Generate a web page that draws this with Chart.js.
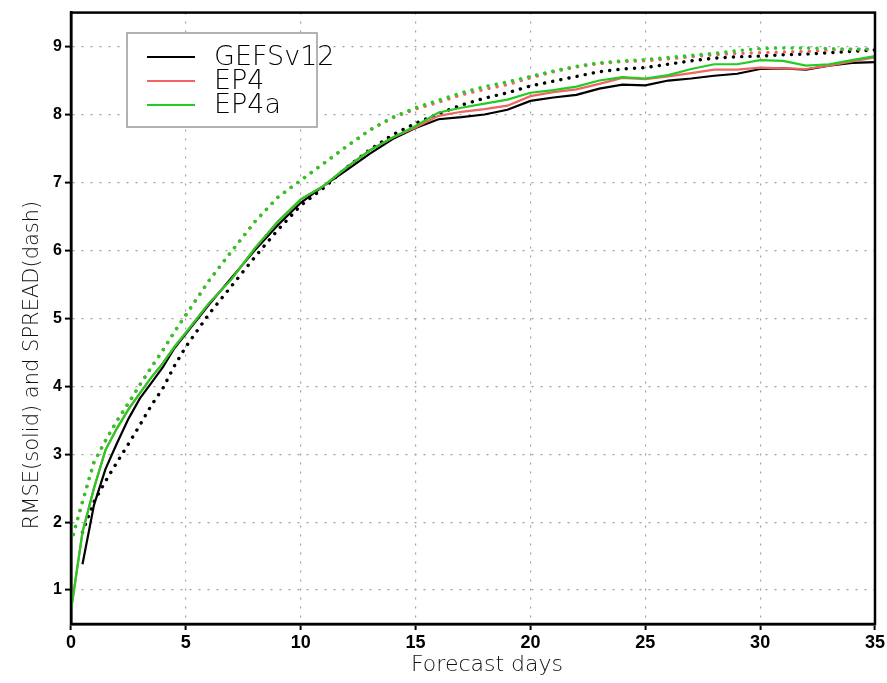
<!DOCTYPE html>
<html>
<head>
<meta charset="utf-8">
<script src="https://cdn.jsdelivr.net/npm/chart.js@4.4.1/dist/chart.umd.min.js"></script>
<style>
html,body{margin:0;padding:0;background:#fff;}
canvas{display:block;}
</style>
</head>
<body>
<canvas id="c" width="887" height="683"></canvas>
<script>
// ---- data ----
const days = [0,0.5,1,1.5,2,2.5,3,3.5,4,4.5,5,
  6,7,8,9,10,11,12,13,14,15,16,17,18,19,20,21,22,23,24,25,26,27,28,29,30,31,32,33,34,35];
const gefsRmse = [null,1.38,2.25,2.78,3.16,3.52,3.82,4.05,4.28,4.56,4.77,
  5.20,5.60,6.00,6.37,6.70,6.95,7.18,7.42,7.64,7.80,
  7.93,7.96,8.00,8.07,8.20,8.25,8.29,8.38,8.44,8.43,
  8.50,8.53,8.57,8.60,8.67,8.68,8.66,8.72,8.76,8.77];
const gefsSpread = [null,1.85,2.30,2.60,2.88,3.15,3.43,3.72,3.97,4.30,4.58,
  5.06,5.48,5.90,6.30,6.66,6.92,7.22,7.48,7.70,7.87,
  8.01,8.14,8.24,8.32,8.42,8.49,8.56,8.63,8.67,8.69,
  8.74,8.79,8.83,8.85,8.86,8.88,8.89,8.91,8.93,8.95];
const ep4Rmse = [0.70,1.85,2.50,3.06,3.38,3.66,3.90,4.13,4.34,4.58,4.79,
  5.22,5.58,6.03,6.42,6.75,6.95,7.22,7.47,7.66,7.81,
  7.98,8.04,8.08,8.13,8.27,8.33,8.37,8.45,8.54,8.52,
  8.56,8.61,8.66,8.66,8.69,8.68,8.67,8.72,8.78,8.84];
const ep4Spread = [1.70,2.30,2.88,3.20,3.49,3.75,4.02,4.28,4.53,4.80,5.05,
  5.55,5.99,6.42,6.78,7.03,7.28,7.53,7.77,7.95,8.08,
  8.18,8.29,8.37,8.44,8.54,8.63,8.70,8.75,8.78,8.79,
  8.82,8.85,8.88,8.90,8.91,8.92,8.93,8.95,8.96,8.96];
const ep4aRmse = [0.70,1.85,2.50,3.06,3.38,3.66,3.90,4.13,4.34,4.58,4.79,
  5.22,5.58,6.03,6.42,6.75,6.95,7.22,7.47,7.66,7.83,
  8.03,8.10,8.16,8.22,8.32,8.36,8.41,8.50,8.55,8.53,
  8.58,8.67,8.74,8.74,8.80,8.79,8.72,8.74,8.80,8.86];
const ep4aSpread = [1.70,2.30,2.88,3.20,3.49,3.75,4.02,4.28,4.53,4.80,5.05,
  5.55,5.99,6.42,6.78,7.03,7.28,7.53,7.77,7.96,8.10,
  8.21,8.32,8.41,8.48,8.56,8.64,8.71,8.76,8.79,8.81,
  8.84,8.87,8.90,8.94,8.97,8.98,8.98,8.97,8.96,8.96];
const xTicks = [0,5,10,15,20,25,30,35];
const yTicks = [1,2,3,4,5,6,7,8,9];
const seriesNames = ['GEFSv12','EP4','EP4a'];
const xTitle = 'Forecast days';
const yTitle = 'RMSE(solid) and SPREAD(dash)';

const BLACK = '#000000', RED = '#f06464', GREEN = '#22cc22';

function pts(arr){ return days.map((d,i)=>({x:d,y:arr[i]})); }
function solid(label,arr,color){
  return {label, data:pts(arr), borderColor:color, borderWidth:2.2, pointRadius:0, fill:false, tension:0};
}
function dotted(label,arr,color){
  return {label, data:pts(arr), borderColor:color, borderWidth:3.4, borderDash:[0.1,8.2], borderCapStyle:'round', pointRadius:0, fill:false, tension:0};
}

const frameAndText = {
  id:'frameAndText',
  afterDraw(chart){
    const {ctx, chartArea:a} = chart;
    ctx.save();
    ctx.strokeStyle = '#000'; ctx.lineWidth = 2.5;
    ctx.strokeRect(a.left, a.top, a.right-a.left, a.bottom-a.top);
    // legend
    const lx = 127, ly = 33, lw = 190, lh = 94;
    ctx.fillStyle = '#fff';
    ctx.fillRect(lx, ly, lw, lh);
    ctx.strokeStyle = '#9a9a9a'; ctx.lineWidth = 1.5;
    ctx.strokeRect(lx, ly, lw, lh);
    const cols = [BLACK, RED, GREEN];
    ctx.font = '200 27px "DejaVu Sans"';
    ctx.textBaseline = 'middle'; ctx.textAlign = 'left';
    seriesNames.forEach((n,i)=>{
      const y = 57 + i*24;
      ctx.strokeStyle = cols[i]; ctx.lineWidth = 2;
      ctx.beginPath(); ctx.moveTo(147,y); ctx.lineTo(195,y); ctx.stroke();
      ctx.fillStyle = '#000';
      ctx.fillText(n, 214, y+1);
    });
    // axis titles
    ctx.fillStyle = '#111';
    ctx.font = '200 22px "DejaVu Sans"';
    ctx.textAlign = 'center'; ctx.textBaseline = 'alphabetic';
    ctx.fillText(xTitle, 487, 671);
    ctx.save();
    ctx.translate(38, 365);
    ctx.rotate(-Math.PI/2);
    ctx.font = '200 21px "DejaVu Sans"';
    ctx.fillText(yTitle, 0, 0);
    ctx.restore();
    ctx.restore();
  }
};

new Chart(document.getElementById('c'), {
  type:'line',
  data:{datasets:[
    // lower index is drawn on top
    solid(seriesNames[2], ep4aRmse, GREEN),
    solid(seriesNames[1], ep4Rmse, RED),
    solid(seriesNames[0], gefsRmse, BLACK),
    dotted('EP4a spread', ep4aSpread, GREEN),
    dotted('EP4 spread', ep4Spread, RED),
    dotted('GEFSv12 spread', gefsSpread, BLACK)
  ]},
  options:{
    responsive:false, animation:false, devicePixelRatio:1,
    layout:{padding:{top:10, right:12, left:0, bottom:0}},
    plugins:{legend:{display:false}, tooltip:{enabled:false}, title:{display:false}},
    scales:{
      x:{
        type:'linear', min:0, max:35,
        afterBuildTicks(s){ s.ticks = xTicks.map(v=>({value:v})); },
        afterFit(s){ s.height = 59; },
        grid:{color:'#a0a0a0', lineWidth:1.2, drawTicks:true, tickLength:6, tickColor:'#000', tickWidth:2},
        border:{display:true, color:'#000', width:2.5, dash:[2,7]},
        ticks:{color:'#000', padding:2, maxRotation:0, autoSkip:false,
          font:{family:'"Liberation Sans Narrow", "Liberation Sans", sans-serif', size:18, weight:'bold'}}
      },
      y:{
        type:'linear', min:0.5, max:9.5,
        afterBuildTicks(s){ s.ticks = yTicks.map(v=>({value:v})); },
        afterFit(s){ s.width = 71; },
        grid:{color:'#a0a0a0', lineWidth:1.2, drawTicks:true, tickLength:6, tickColor:'#000', tickWidth:2},
        border:{display:true, color:'#000', width:2.5, dash:[2,7]},
        ticks:{color:'#000', padding:3, autoSkip:false,
          font:{family:'"Liberation Sans", sans-serif', size:16, weight:'bold'}}
      }
    }
  },
  plugins:[frameAndText]
});
</script>
</body>
</html>
